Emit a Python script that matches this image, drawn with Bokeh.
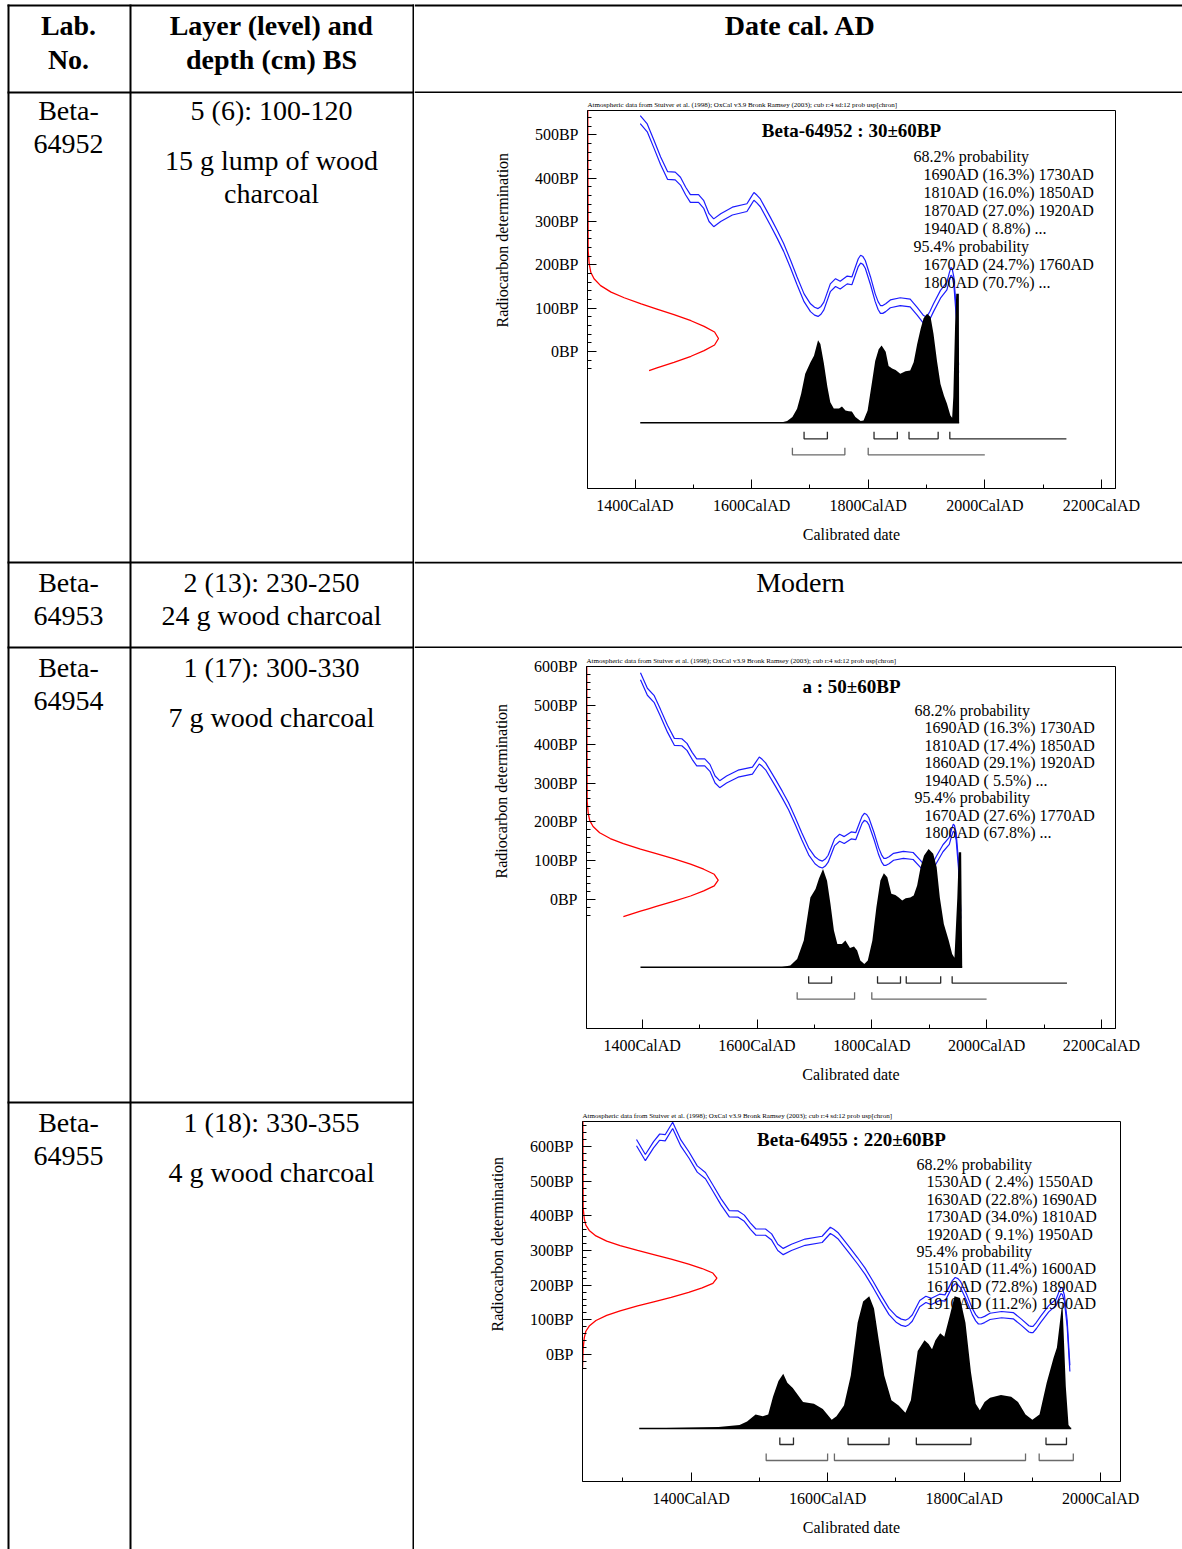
from bokeh.plotting import figure
from bokeh.layouts import row, column
from bokeh.models import Range1d, FixedTicker, Title
from bokeh.core.properties import value
from bokeh.embed import file_html
from bokeh.resources import INLINE

FONT = "Liberation Serif"
BLUE = "#1c1cff"
RED = "#ff0000"

# ---------------- table content ----------------
HEAD_LAB = ["Lab.", "No."]
HEAD_LAYER = ["Layer (level) and", "depth (cm) BS"]
HEAD_DATE = "Date cal. AD"
LAB_NO = [["Beta-", "64952"], ["Beta-", "64953"], ["Beta-", "64954"], ["Beta-", "64955"]]
LAYER = [["5 (6): 100-120", "15 g lump of wood", "charcoal"],
         ["2 (13): 230-250", "24 g wood charcoal"],
         ["1 (17): 300-330", "7 g wood charcoal"],
         ["1 (18): 330-355", "4 g wood charcoal"]]
MODERN = "Modern"

# ---------------- OxCal data ----------------
NOTE = ("Atmospheric data from Stuiver et al. (1998); OxCal v3.9 Bronk Ramsey (2003); "
        "cub r:4 sd:12 prob usp[chron]")
SAMPLES = ["Beta-64952", "a", "Beta-64955"]
MEANS = [30, 50, 220]
ERRS = [60, 60, 60]
RED_CUT = [-44, -44, -40]
CURVE_START = [1409, 1397, 1320]

# calibration curve (centre, BP) and its half width
CAL_YEAR = [1320, 1333, 1345, 1354, 1362, 1373, 1385, 1397, 1409, 1421,
            1432, 1444, 1456, 1469, 1478, 1487, 1495, 1509, 1518, 1527,
            1535, 1547, 1567, 1592, 1598, 1604, 1609, 1615, 1632, 1644,
            1655, 1667, 1678, 1690, 1701, 1708, 1714, 1719, 1724, 1735,
            1744, 1752, 1764, 1772, 1778, 1783, 1787, 1791, 1795, 1804,
            1812, 1817, 1821, 1825, 1830, 1838, 1855, 1872, 1884, 1895,
            1898, 1901, 1906, 1912, 1924, 1935, 1939, 1942, 1944, 1947,
            1951, 1955]
CAL_BP = [611, 568, 605, 627, 625, 661, 610, 575, 535, 516,
          480, 440, 406, 405, 393, 370, 353, 353, 339, 309,
          297, 309, 324, 332, 345, 358, 352, 343, 301, 270,
          240, 201, 163, 124, 101, 93, 90, 95, 105, 147,
          159, 153, 165, 163, 186, 205, 213, 210, 201, 163,
          124, 106, 97, 97, 101, 110, 115, 112, 93, 74,
          72, 72, 84, 101, 132, 151, 172, 185, 182, 162,
          90, -40]
CAL_HALF = 9

# radiocarbon determination profile (offset from mean in BP, relative density)
RED_OFFSET = [800, 203, 172, 153, 138, 122, 107, 94, 80, 68, 55, 41, 28, 15, 0,
              -15, -28, -41, -55, -68, -74, -80, -94, -107, -122, -138, -153, -172, -203, -260]
RED_DENS = [0, 0.005, 0.013, 0.025, 0.05, 0.10, 0.18, 0.28, 0.41, 0.53, 0.66, 0.79, 0.89, 0.97, 1.0,
            0.97, 0.89, 0.79, 0.66, 0.53, 0.47, 0.41, 0.28, 0.18, 0.10, 0.05, 0.025, 0.013, 0.005, 0]

D1_YEAR = [1409, 1649, 1661, 1670, 1678, 1685, 1692, 1701, 1707, 1714,
           1718, 1724, 1730, 1735, 1741, 1750, 1755, 1761, 1767, 1772,
           1778, 1787, 1792, 1799, 1807, 1812, 1818, 1823, 1830, 1835,
           1841, 1847, 1855, 1864, 1872, 1878, 1884, 1890, 1895, 1901,
           1907, 1912, 1918, 1924, 1930, 1935, 1941, 1944, 1946, 1949,
           1951, 1955.5, 1956]
D1_PROB = [0, 0, 0.013, 0.044, 0.109, 0.225, 0.38, 0.47, 0.52, 0.64,
           0.61, 0.46, 0.28, 0.16, 0.11, 0.11, 0.126, 0.095, 0.09, 0.088,
           0.044, 0.013, 0.018, 0.095, 0.33, 0.48, 0.57, 0.60, 0.55, 0.44,
           0.42, 0.41, 0.38, 0.40, 0.405, 0.47, 0.61, 0.73, 0.81, 0.845,
           0.82, 0.69, 0.48, 0.30, 0.21, 0.15, 0.057, 0.039, 0.2, 0.75,
           1.0, 1.0, 0]
D2_YEAR = [1397, 1641, 1658, 1670, 1681.5, 1693, 1702, 1708, 1715, 1722,
           1728, 1734, 1740, 1748, 1754, 1762, 1769, 1774.5, 1780, 1787,
           1793, 1801, 1808, 1815, 1821, 1827, 1834, 1841, 1847, 1853,
           1859, 1867, 1873, 1879, 1885, 1891, 1899, 1907, 1913, 1918.5,
           1925.5, 1934, 1940, 1944, 1949, 1951.6, 1955.7, 1957.5]
D2_PROB = [0, 0, 0.014, 0.07, 0.226, 0.59, 0.66, 0.75, 0.83, 0.73,
           0.535, 0.31, 0.197, 0.197, 0.226, 0.163, 0.175, 0.141, 0.057, 0.028,
           0.057, 0.226, 0.507, 0.733, 0.795, 0.76, 0.62, 0.61, 0.59, 0.564,
           0.583, 0.59, 0.606, 0.69, 0.845, 0.944, 1.0, 0.958, 0.845, 0.59,
           0.366, 0.226, 0.112, 0.079, 0.59, 0.972, 0.972, 0]
D3_YEAR = [1324, 1440, 1471, 1482, 1494.5, 1505, 1513, 1520, 1528, 1535,
           1541, 1549, 1564, 1580, 1593, 1606, 1613, 1624, 1634, 1644,
           1652, 1661, 1668, 1675, 1683, 1693.5, 1704, 1714, 1722, 1732,
           1742, 1748, 1753, 1758, 1765, 1771, 1779, 1786, 1794, 1802,
           1810, 1817, 1823, 1830, 1838, 1854, 1869, 1879, 1890, 1900,
           1910.5, 1921, 1931, 1936, 1944, 1949, 1953, 1957]
D3_PROB = [0, 0.011, 0.026, 0.053, 0.106, 0.093, 0.106, 0.24, 0.36, 0.414,
           0.346, 0.306, 0.2, 0.187, 0.147, 0.067, 0.093, 0.174, 0.40, 0.80,
           0.96, 1.0, 0.908, 0.667, 0.40, 0.213, 0.174, 0.12, 0.213, 0.587,
           0.667, 0.64, 0.60, 0.667, 0.72, 0.694, 0.853, 1.0, 0.987, 0.80,
           0.427, 0.187, 0.138, 0.2, 0.232, 0.253, 0.24, 0.2, 0.106, 0.067,
           0.106, 0.346, 0.533, 0.613, 0.96, 0.32, 0.026, 0]
DIST_YEAR = [D1_YEAR, D2_YEAR, D3_YEAR]
DIST_PROB = [D1_PROB, D2_PROB, D3_PROB]

# calibrated ranges: (from, %, to); to=None means open ("...")
R68 = [[(1690, 16.3, 1730), (1810, 16.0, 1850), (1870, 27.0, 1920), (1940, 8.8, None)],
       [(1690, 16.3, 1730), (1810, 17.4, 1850), (1860, 29.1, 1920), (1940, 5.5, None)],
       [(1530, 2.4, 1550), (1630, 22.8, 1690), (1730, 34.0, 1810), (1920, 9.1, 1950)]]
R95 = [[(1670, 24.7, 1760), (1800, 70.7, None)],
       [(1670, 27.6, 1770), (1800, 67.8, None)],
       [(1510, 11.4, 1600), (1610, 72.8, 1890), (1910, 11.2, 1960)]]
OPEN68 = [2140, 2140, None]
OPEN95 = [2000, 2000, None]

X_TICKS = [[1400, 1600, 1800, 2000, 2200], [1400, 1600, 1800, 2000, 2200], [1400, 1600, 1800, 2000]]
X_MINOR = [[1500, 1700, 1900, 2100], [1500, 1700, 1900, 2100], [1300, 1500, 1700, 1900]]
X_LABELS = [["1400CalAD", "1600CalAD", "1800CalAD", "2000CalAD", "2200CalAD"],
            ["1400CalAD", "1600CalAD", "1800CalAD", "2000CalAD", "2200CalAD"],
            ["1400CalAD", "1600CalAD", "1800CalAD", "2000CalAD"]]
Y_TICKS = [[0, 100, 200, 300, 400, 500], [0, 100, 200, 300, 400, 500, 600], [0, 100, 200, 300, 400, 500, 600]]
Y_LABELS = [["0BP", "100BP", "200BP", "300BP", "400BP", "500BP"],
            ["0BP", "100BP", "200BP", "300BP", "400BP", "500BP", "600BP"],
            ["0BP", "100BP", "200BP", "300BP", "400BP", "500BP", "600BP"]]

# ---------------- layout geometry (page pixels) ----------------
PAGE_W = 1182
LEFT_W = 414
RIGHT_X0 = LEFT_W
RIGHT_W = PAGE_W - LEFT_W
TOTAL_H = 1549
YLAB_HALF = 87   # half the length of the rotated y title, px

GEO = [
    dict(fig_top=93, fig_h=468, frame=(587, 110, 1115, 488), xmap=(1400, 634.5, 0.583),
         ymap=(351, 0.4334), dist=(422.3, 129.0), red_px=131.0, title_xy=(851, 130),
         text_x=913, text_y=156, text_step=18.0, y_top_minor=540, ylab_y=240),
    dict(fig_top=648, fig_h=453, frame=(586, 666, 1115, 1028), xmap=(1400, 641.7, 0.574),
         ymap=(899, 0.3883), dist=(966.7, 118.3), red_px=131.7, title_xy=(851, 686),
         text_x=914, text_y=710, text_step=17.43, y_top_minor=580, ylab_y=791),
    dict(fig_top=1103, fig_h=446, frame=(582, 1121, 1120, 1481), xmap=(1400, 690.6, 0.6825),
         ymap=(1354, 0.3467), dist=(1428, 132.2), red_px=134.4, title_xy=(851, 1139),
         text_x=916, text_y=1164, text_step=17.4, y_top_minor=660, ylab_y=1244),
]


def range_text(r):
    s, pct, e = r
    if e is None:
        return f"{s}AD ({pct:4.1f}%) ..."
    return f"{s}AD ({pct:4.1f}%) {e}AD"


def build_chart(i):
    g = GEO[i]
    L, T, R, B = g["frame"]
    yr0, px0, ppy = g["xmap"]
    py0, ppb = g["ymap"]
    base_py, unit_px = g["dist"]
    fig_top, fig_h = g["fig_top"], g["fig_h"]

    def yr(px):
        return yr0 + (px - px0) / ppy

    def bp(py):
        return (py0 - py) / ppb

    p = figure(width=RIGHT_W, height=fig_h,
               x_range=Range1d(yr(L), yr(R)), y_range=Range1d(bp(B), bp(T)),
               output_backend="svg", toolbar_location=None,
               min_border_left=int(round(L - RIGHT_X0)), min_border_right=int(round(PAGE_W - R)),
               min_border_top=int(round(T - fig_top)), min_border_bottom=int(round(fig_top + fig_h - B)))
    p.frame_align = False
    p.extra_y_ranges = {"prob": Range1d(-(B - base_py) / unit_px, (base_py - T) / unit_px)}
    p.extra_x_ranges = {"red": Range1d(0, (R - L) / g["red_px"])}
    p.grid.visible = False
    p.outline_line_color = "black"
    p.outline_line_width = 1
    p.background_fill_color = "white"

    # tiny header note
    p.title.text = NOTE
    p.title.text_font = FONT
    p.title.text_font_size = "7px"
    p.title.text_font_style = "normal"
    p.title.text_color = "black"
    p.title.align = "left"
    p.title.standoff = 3
    p.title.offset = 0

    # calibration curve (double line)
    sel = [k for k, y in enumerate(CAL_YEAR) if y >= CURVE_START[i]]
    cx = [CAL_YEAR[k] for k in sel]
    p.line(cx, [CAL_BP[k] + CAL_HALF for k in sel], line_color=BLUE, line_width=1.2)
    p.line(cx, [CAL_BP[k] - CAL_HALF for k in sel], line_color=BLUE, line_width=1.2)

    # radiocarbon determination
    keep = [k for k, o in enumerate(RED_OFFSET) if MEANS[i] + o >= RED_CUT[i]]
    p.line([RED_DENS[k] for k in keep], [MEANS[i] + RED_OFFSET[k] for k in keep],
           x_range_name="red", line_color=RED, line_width=1.3)

    # calibrated distribution
    dy, dp = DIST_YEAR[i], DIST_PROB[i]
    p.varea(x=dy, y1=[0] * len(dy), y2=dp, y_range_name="prob", fill_color="black")
    p.line([dy[0], dy[-1]], [0, 0], y_range_name="prob", line_color="black", line_width=1.6)

    # range brackets
    for ranges, open_end, off, col in ((R68[i], OPEN68[i], 16, "#2a2a2a"), (R95[i], OPEN95[i], 32, "#6a6a6a")):
        y_line = -off / unit_px
        y_tick = -(off - 7) / unit_px
        xs, ys = [], []
        for s, pct, e in ranges:
            if e is None:
                xs.append([s, s, open_end])
                ys.append([y_tick, y_line, y_line])
            else:
                xs.append([s, s, e, e])
                ys.append([y_tick, y_line, y_line, y_tick])
        p.multi_line(xs, ys, y_range_name="prob", line_color=col, line_width=1.3)

    # title of the plot
    tx, ty = g["title_xy"]
    p.text(x=[yr(tx)], y=[bp(ty)], text=[f"{SAMPLES[i]} : {MEANS[i]}\u00b1{ERRS[i]}BP"],
           text_font=value(FONT), text_font_size="19px", text_font_style="bold",
           text_align="center", text_baseline="middle", text_color="black")

    # probability text
    lines, indents = ["68.2% probability"], [0]
    for r in R68[i]:
        lines.append(range_text(r)); indents.append(10)
    lines.append("95.4% probability"); indents.append(0)
    for r in R95[i]:
        lines.append(range_text(r)); indents.append(10)
    xs = [yr(g["text_x"] + d) for d in indents]
    ys = [bp(g["text_y"] + k * g["text_step"]) for k in range(len(lines))]
    p.text(x=xs, y=ys, text=lines, text_font=value(FONT), text_font_size="16px",
           text_align="left", text_baseline="middle", text_color="black")

    # axes
    xa, ya = p.xaxis[0], p.yaxis[0]
    xa.ticker = FixedTicker(ticks=X_TICKS[i], minor_ticks=X_MINOR[i])
    xa.major_label_overrides = dict(zip(X_TICKS[i], X_LABELS[i]))
    ya.ticker = FixedTicker(ticks=Y_TICKS[i], minor_ticks=list(range(-40, g["y_top_minor"] + 1, 20)))
    ya.major_label_overrides = dict(zip(Y_TICKS[i], Y_LABELS[i]))
    ya.bounds = (-40, bp(T))
    xa.axis_label = "Calibrated date"
    for ax, st, lst in ((xa, 8, 9), (ya, 9, 20)):
        ax.axis_line_color = "black"
        ax.major_tick_line_color = "black"
        ax.minor_tick_line_color = "black"
        ax.major_tick_in = 9
        ax.major_tick_out = 0
        ax.minor_tick_in = 4
        ax.minor_tick_out = 0
        ax.major_label_text_font = FONT
        ax.major_label_text_font_size = "16px"
        ax.major_label_text_color = "black"
        ax.major_label_standoff = st
        ax.axis_label_text_font = FONT
        ax.axis_label_text_font_size = "16px"
        ax.axis_label_text_font_style = "normal"
        ax.axis_label_text_color = "black"
        ax.axis_label_standoff = lst
    ya.major_label_orientation = "horizontal"

    # y axis title, centred on the labelled part of the axis as in OxCal
    p.add_layout(Title(text="Radiocarbon determination", align="left",
                       offset=B - g["ylab_y"] - YLAB_HALF, standoff=42,
                       text_font=FONT, text_font_size="16px", text_font_style="normal",
                       text_color="black"), "left")
    return p


def blank(width, height):
    f = figure(width=width, height=height, x_range=Range1d(0, width), y_range=Range1d(height, 0),
               output_backend="svg", toolbar_location=None, min_border=0,
               x_axis_location=None, y_axis_location=None, outline_line_color=None)
    f.frame_align = False
    f.grid.visible = False
    return f


def txt(f, xs, ys, texts, size="28px", style="normal"):
    f.text(x=xs, y=ys, text=texts, text_font=value(FONT), text_font_size=size,
           text_font_style=style, text_align="center", text_baseline="middle", text_color="black")


# ---------------- left part of the table (columns 1-2) ----------------
lf = blank(LEFT_W, TOTAL_H)
ROW_LINES = [5, 92, 562, 647, 1102]
COL_LINES = [8, 130, 413]
lf.segment(x0=[COL_LINES[0] - 1] * len(ROW_LINES), x1=[LEFT_W] * len(ROW_LINES), y0=ROW_LINES, y1=ROW_LINES,
           line_color="black", line_width=2)
lf.segment(x0=COL_LINES, x1=COL_LINES,
           y0=[ROW_LINES[0] - 1] * len(COL_LINES), y1=[TOTAL_H] * len(COL_LINES),
           line_color="black", line_width=2)

C1, C2 = 68, 271
txt(lf, [C1, C1], [25, 59], HEAD_LAB, style="bold")
txt(lf, [C2, C2], [25, 59], HEAD_LAYER, style="bold")
LAB_Y = [[110, 143], [582, 615], [667, 700], [1122, 1155]]
LAYER_Y = [[110, 160, 193], [582, 615], [667, 717], [1122, 1172]]
for r in range(4):
    txt(lf, [C1] * 2, LAB_Y[r], LAB_NO[r])
    txt(lf, [C2] * len(LAYER[r]), LAYER_Y[r], LAYER[r])

# ---------------- right column ----------------
hdr = blank(RIGHT_W, 93)
hdr.segment(x0=[0, 0], x1=[RIGHT_W, RIGHT_W], y0=[5, 92], y1=[5, 92], line_color="black", line_width=2)
txt(hdr, [800 - RIGHT_X0], [25], [HEAD_DATE], style="bold")

mod = blank(RIGHT_W, 87)
mod.segment(x0=[0, 0], x1=[RIGHT_W, RIGHT_W], y0=[1, 86], y1=[1, 86], line_color="black", line_width=2)
txt(mod, [800 - RIGHT_X0], [582 - 561], [MODERN])

sep = blank(RIGHT_W, 2)
sep.quad(left=[0], right=[RIGHT_W], bottom=[2], top=[0], fill_color="black", line_color=None)

charts = [build_chart(i) for i in range(3)]
right = column(hdr, charts[0], mod, charts[1], sep, charts[2], spacing=0)
page = row(lf, right, spacing=0)

open("out.html", "w").write(file_html(page, INLINE, title="Radiocarbon dates"))
